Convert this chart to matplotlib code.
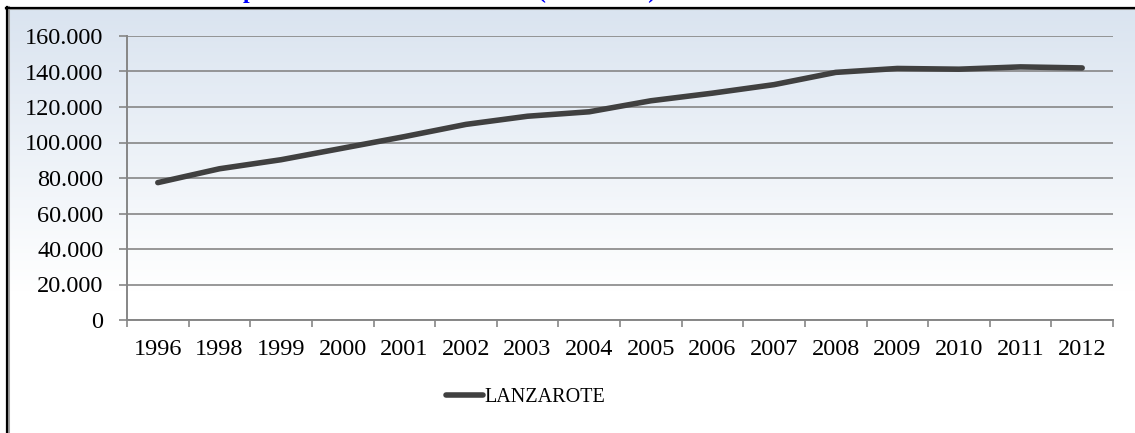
import numpy as np
import matplotlib.pyplot as plt
from matplotlib.lines import Line2D
from matplotlib.colors import LinearSegmentedColormap

# Data
years = ["1996", "1998", "1999", "2000", "2001", "2002", "2003", "2004",
         "2005", "2006", "2007", "2008", "2009", "2010", "2011", "2012"]
lanzarote = [77400, 85200, 90300, 96800, 103300, 110200, 114800, 117300,
             123500, 127800, 132600, 139500, 141700, 141300, 142600, 142000]
yticks = [0, 20000, 40000, 60000, 80000, 100000, 120000, 140000, 160000]
ytick_labels = ["0", "20.000", "40.000", "60.000", "80.000", "100.000",
                "120.000", "140.000", "160.000"]
series_name = "LANZAROTE"
title = "Evolución de la población total de Lanzarote (1996-2012)"

plt.rcParams["font.family"] = ["Liberation Serif", "DejaVu Serif"]
W, H = 1135, 433
fig = plt.figure(figsize=(W / 100, H / 100), dpi=100)
fig.patch.set_facecolor("white")

# gradient background of the chart area
bg = fig.add_axes([7 / W, 0, 1 - 7 / W, 1 - 9 / H], zorder=0)
grad_top = 9
grad_bot = 292
ny = 400
cmap = LinearSegmentedColormap.from_list("bgc", ["#dae4f0", "#ffffff"])
yy = np.linspace(grad_top, H, ny)
vals = np.clip((yy - grad_top) / (grad_bot - grad_top), 0, 1)[:, None]
bg.imshow(vals, aspect="auto", cmap=cmap, vmin=0, vmax=1,
          extent=[0, 1, 0, 1], interpolation="bilinear")
bg.set_axis_off()

# frame lines (top and left)
fig.add_artist(Line2D([6 / W, 1], [1 - 8 / H, 1 - 8 / H], transform=fig.transFigure,
                      color="#a0a0a0", lw=2.2, zorder=5))
fig.add_artist(Line2D([6 / W, 1], [1 - 7.5 / H, 1 - 7.5 / H], transform=fig.transFigure,
                      color="black", lw=1.6, zorder=6))
fig.add_artist(Line2D([8 / W, 8 / W], [0, 1 - 7 / H], transform=fig.transFigure,
                      color="#a0a0a0", lw=2.2, zorder=5))
fig.add_artist(Line2D([7 / W, 7 / W], [0, 1 - 7 / H], transform=fig.transFigure,
                      color="black", lw=1.6, zorder=6))

# title, cut off at the top edge like in the source (only descenders show)
fig.text(82 / W, 1 + 2 / H, title, color="#0000ff", fontsize=17, fontweight="bold",
         ha="left", va="baseline")

ax = fig.add_axes([127 / W, 1 - 320 / H, (1113 - 127) / W, (320 - 36) / H], zorder=2)
ax.patch.set_alpha(0)

x = np.arange(len(years))
ax.plot(x, lanzarote, color="#404040", lw=4.0, solid_capstyle="round",
        solid_joinstyle="round", label=series_name, zorder=3)

ax.set_xlim(-0.5, len(years) - 0.5)
ax.set_ylim(0, 160000)
ax.set_yticks(yticks)
ax.set_yticklabels(ytick_labels)
ax.set_xticks(x)
ax.set_xticklabels(years)
ax.set_xticks(np.arange(len(years) + 1) - 0.5, minor=True)

gcol = "#868686"
ax.grid(axis="y", color=gcol, lw=1.2)
ax.set_axisbelow(True)
for s in ["top", "right"]:
    ax.spines[s].set_visible(False)
ax.spines["left"].set_color(gcol)
ax.spines["bottom"].set_color(gcol)
ax.spines["left"].set_linewidth(1.4)
ax.spines["bottom"].set_linewidth(1.4)

ax.tick_params(axis="y", length=6, width=1.2, color=gcol, pad=11, labelsize=17.5)
ax.tick_params(axis="x", which="major", length=0, pad=14, labelsize=17.5)
ax.tick_params(axis="x", which="minor", length=5, width=1.2, color=gcol)

ax.legend(loc="center", bbox_to_anchor=(526 / W, 1 - 397 / H),
          bbox_transform=fig.transFigure, frameon=False, fontsize=14.5,
          handlelength=1.8, handletextpad=0.1)

fig.savefig("out.png", dpi=100)
